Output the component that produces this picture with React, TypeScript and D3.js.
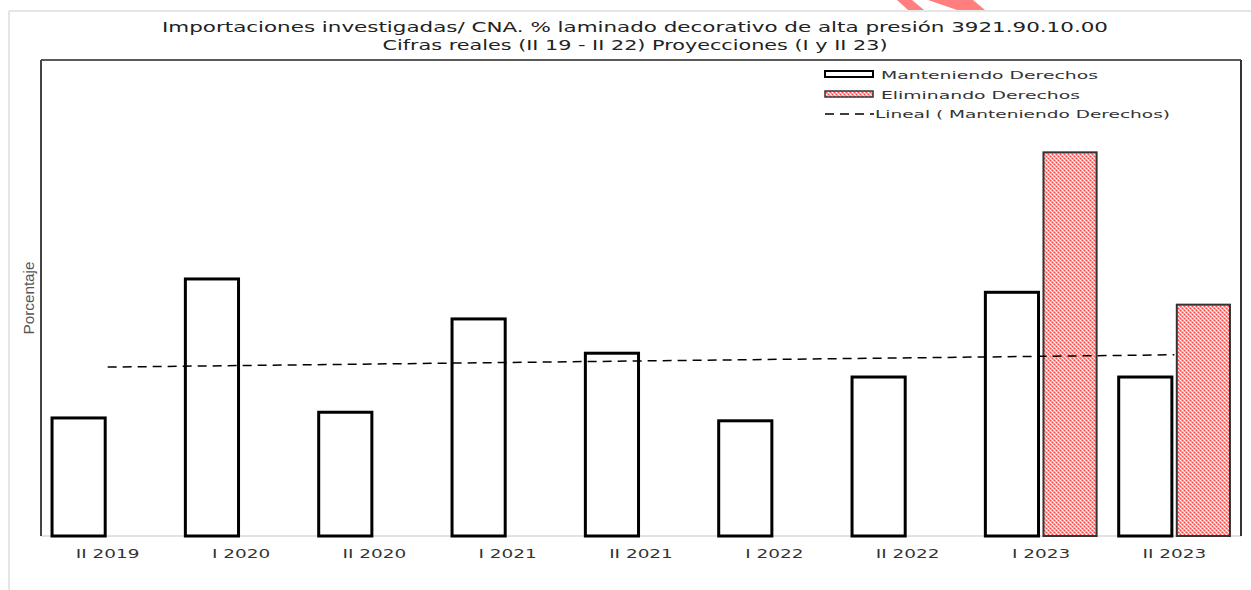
import React from "react";
import * as d3 from "d3";

const categories = ["II 2019", "I 2020", "II 2020", "I 2021", "II 2021", "I 2022", "II 2022", "I 2023", "II 2023"];
const manteniendo = [12.4, 27.0, 13.0, 22.8, 19.2, 12.1, 16.7, 25.6, 16.7];
const eliminando: (number | null)[] = [null, null, null, null, null, null, null, 40.3, 24.3];
const seriesKeys = ["Manteniendo Derechos", "Eliminando Derechos"];
const titleLines = [
  "Importaciones investigadas/ CNA. % laminado decorativo de alta presión 3921.90.10.00",
  "Cifras reales (II 19 - II 22) Proyecciones (I y II 23)",
];
const yLabel = "Porcentaje";
const trendLabel = "Lineal ( Manteniendo Derechos)";

const W = 1251;
const H = 590;
const plot = { left: 41, right: 1241, top: 60, bottom: 536 };
const FONT = "'DejaVu Sans', 'Noto Sans', sans-serif";
const TEXT = "#333333";

export default function App() {
  const x = d3.scaleBand<string>().domain(categories).range([plot.left, plot.right]).padding(0);
  const xSub = d3
    .scaleBand<string>()
    .domain(seriesKeys)
    .range([0, x.step()])
    .paddingInner(0.085)
    .paddingOuter(0.19);
  const y = d3.scaleLinear().domain([0, 50]).range([plot.bottom, plot.top]);

  // linear trend (least squares) of Manteniendo
  const idx = manteniendo.map((_, i) => i);
  const mx = d3.mean(idx) as number;
  const my = d3.mean(manteniendo) as number;
  const sxy = d3.sum(idx, (i) => (i - mx) * (manteniendo[i] - my));
  const sxx = d3.sum(idx, (i) => (i - mx) * (i - mx));
  const slope = sxy / sxx;
  const intercept = my - slope * mx;
  const trendPts: [number, number][] = [0, categories.length - 1].map((i) => [
    (x(categories[i]) as number) + x.bandwidth() / 2,
    y(intercept + slope * i),
  ]);
  const line = d3.line<[number, number]>();

  const bw = xSub.bandwidth();

  return (
    <svg width={W} height={H} style={{ position: "absolute", left: 0, top: 0, background: "#fff" }}>
      <defs>
        <pattern id="redpat" width="4" height="4" patternUnits="userSpaceOnUse">
          <rect width="4" height="4" fill="#ff9a9a" />
          <rect x="0" y="0" width="1" height="1" fill="#ffffff" />
          <rect x="2" y="2" width="1" height="1" fill="#ffffff" />
          <rect x="2" y="0" width="1" height="1" fill="#ff4a4a" />
          <rect x="0" y="2" width="1" height="1" fill="#ff4a4a" />
          <rect x="1" y="1" width="1" height="1" fill="#ffd4d4" />
          <rect x="3" y="3" width="1" height="1" fill="#ffd4d4" />
        </pattern>
      </defs>

      {/* watermark fragment */}
      <polygon points="897,0 912,0 924,10 908,10" fill="#ff7f7f" />
      <polygon points="928,0 973,0 985,10 957,10" fill="#ff7f7f" />

      {/* outer page border */}
      <line x1={9} y1={11} x2={W} y2={11} stroke="#dcdcdc" strokeWidth={1.5} />
      <line x1={9} y1={11} x2={9} y2={H} stroke="#dcdcdc" strokeWidth={1.5} />

      {/* title */}
      {titleLines.map((t, i) => (
        <text
          key={i}
          x={635}
          y={32 + i * 18}
          textAnchor="middle"
          fontFamily={FONT}
          fontSize={14}
          fill="#222"
          textLength={i === 0 ? 946 : 505}
          lengthAdjust="spacingAndGlyphs"
        >
          {t}
        </text>
      ))}

      {/* plot frame */}
      <line x1={plot.left} y1={plot.bottom} x2={plot.right} y2={plot.bottom} stroke="#d9d9d9" strokeWidth={1.5} />
      <line x1={plot.left} y1={plot.top} x2={plot.right} y2={plot.top} stroke="#222" strokeWidth={1.5} />
      <line x1={plot.left} y1={plot.top} x2={plot.left} y2={plot.bottom} stroke="#444" strokeWidth={2} />
      <line x1={plot.right} y1={plot.top} x2={plot.right} y2={plot.bottom} stroke="#333" strokeWidth={2} />

      {/* bars */}
      {categories.map((c, i) => {
        const x0 = x(c) as number;
        const v1 = manteniendo[i];
        const v2 = eliminando[i];
        return (
          <g key={c}>
            <rect
              x={x0 + (xSub(seriesKeys[0]) as number)}
              y={y(v1)}
              width={bw}
              height={plot.bottom - y(v1)}
              fill="#fff"
              stroke="#000"
              strokeWidth={3}
            />
            {v2 != null && (
              <rect
                x={x0 + (xSub(seriesKeys[1]) as number)}
                y={y(v2)}
                width={bw}
                height={plot.bottom - y(v2)}
                fill="url(#redpat)"
                stroke="#333"
                strokeWidth={2}
              />
            )}
          </g>
        );
      })}

      {/* trend */}
      <path d={line(trendPts) as string} fill="none" stroke="#000" strokeWidth={1.5} strokeDasharray="9,6" />

      {/* x tick labels */}
      {categories.map((c) => (
        <text
          key={c}
          transform={`translate(${(x(c) as number) + x.bandwidth() / 2},558) scale(1.42,1)`}
          textAnchor="middle"
          fontFamily={FONT}
          fontSize={13}
          fill={TEXT}
        >
          {c}
        </text>
      ))}

      {/* y label */}
      <text
        transform="translate(34,298) rotate(-90)"
        textAnchor="middle"
        fontFamily="'Liberation Sans Narrow', 'Liberation Sans', sans-serif"
        fontSize={15}
        fill="#555"
        textLength={73}
        lengthAdjust="spacingAndGlyphs"
      >
        {yLabel}
      </text>

      {/* legend */}
      <g>
        <rect x={825} y={71} width={48} height={6} fill="#fff" stroke="#000" strokeWidth={2} />
        <text x={881} y={78.5} fontFamily={FONT} fontSize={11} fill={TEXT} textLength={217} lengthAdjust="spacingAndGlyphs">
          {seriesKeys[0]}
        </text>
        <rect x={825} y={91} width={48} height={6} fill="url(#redpat)" stroke="#333" strokeWidth={1.5} />
        <text x={881} y={99} fontFamily={FONT} fontSize={11} fill={TEXT} textLength={199} lengthAdjust="spacingAndGlyphs">
          {seriesKeys[1]}
        </text>
        <line x1={825} y1={114} x2={874} y2={114} stroke="#000" strokeWidth={1.5} strokeDasharray="9,6" />
        <text x={875} y={118} fontFamily={FONT} fontSize={11} fill={TEXT} textLength={295} lengthAdjust="spacingAndGlyphs">
          {trendLabel}
        </text>
      </g>
    </svg>
  );
}
